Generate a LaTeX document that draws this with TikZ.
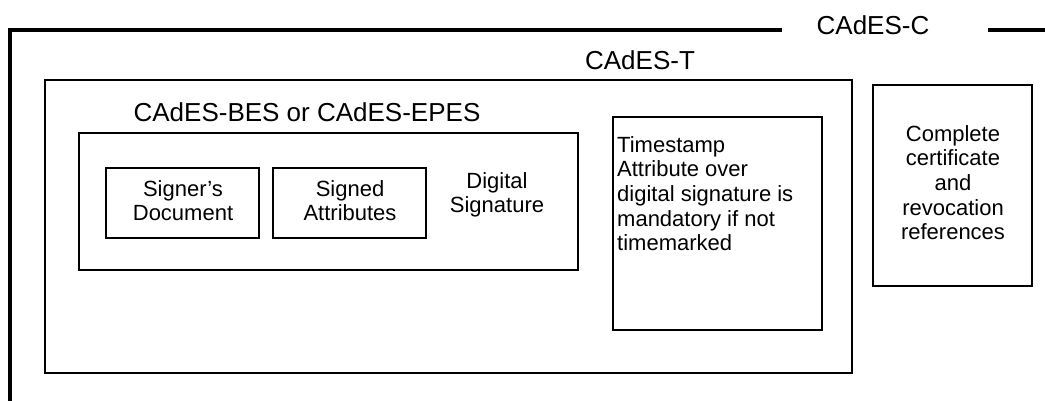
\documentclass[tikz,border=0pt]{standalone}
\usepackage{fontspec}
\setmainfont{Liberation Sans}
\begin{document}
\begin{tikzpicture}[x=1pt,y=-1pt,
  frame/.style={draw=black,line width=4pt},
  box/.style={draw=black,line width=1.4pt},
  bigtext/.style={inner sep=0pt,font=\fontsize{26}{30}\selectfont},
  smalltext/.style={inner sep=0pt,font=\fontsize{22}{24.7}\selectfont}]
\useasboundingbox[fill=white] (0,0) rectangle (1045,401);
% CAdES-C frame
\coordinate (cbl) at (10,403);
\coordinate (ctl) at (10,30);
\coordinate (cg1) at (782,30);
\coordinate (cg2) at (988,30);
\coordinate (ctr) at (1047,30);
\draw[frame] (cbl) -- (ctl) -- (cg1);
\draw[frame] (cg2) -- (ctr);
\node[bigtext,anchor=base] (lblC) at (873,35) {CAdES-C};
% CAdES-T
\draw[box] (45,80) rectangle (852,373);
\node[bigtext,anchor=base] (lblT) at (640,70) {CAdES-T};
% CAdES-BES
\node[bigtext,anchor=base] (lblBES) at (307,122) {CAdES-BES or CAdES-EPES};
\draw[box] (79,133) rectangle (578,270);
\draw[box] (106,168) rectangle (259,238);
\draw[box] (273,168) rectangle (426,238);
\node[smalltext,align=center,anchor=north] (signer) at (183,180) {Signer’s\\Document};
\node[smalltext,align=center,anchor=north] (signed) at (350,180) {Signed\\Attributes};
\node[smalltext,align=center,anchor=north] (digsig) at (497,172) {Digital\\Signature};
% Timestamp
\draw[box] (613,117) rectangle (822,330);
\node[smalltext,align=left,anchor=north west] (ts) at (617,136) {Timestamp\\Attribute over\\digital signature is\\mandatory if not\\timemarked};
% Complete certificate
\draw[box] (873,85) rectangle (1032,286);
\node[smalltext,align=center,anchor=north] (cc) at (953,125) {Complete\\certificate\\and\\revocation\\references};
\end{tikzpicture}
\end{document}
